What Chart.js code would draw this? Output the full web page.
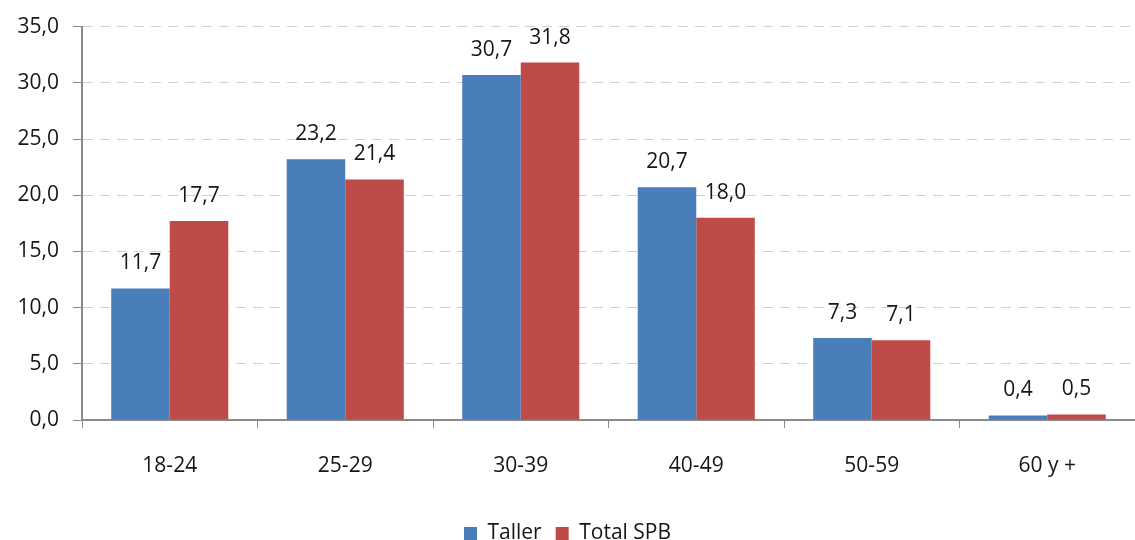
<!DOCTYPE html>
<html lang="es">
<head>
    <meta charset="UTF-8">
    <title>Edades</title>
    <style>
        html, body { margin: 0; padding: 0; background: #fff; }
        #grafica { display: block; }
    </style>
    <script src="https://cdn.jsdelivr.net/npm/chart.js@4/dist/chart.umd.min.js"></script>
</head>
<body>
    <canvas id="grafica" width="1135" height="540"></canvas>
    <script>
        const categorias = ['18-24', '25-29', '30-39', '40-49', '50-59', '60 y +'];
        const taller = [11.7, 23.2, 30.7, 20.7, 7.3, 0.4];
        const totalSPB = [17.7, 21.4, 31.8, 18.0, 7.1, 0.5];
        const ticksY = [0, 5, 10, 15, 20, 25, 30, 35];

        const fmt = v => v.toFixed(1).replace('.', ',');
        const fuente = "'Open Sans', 'DejaVu Sans', sans-serif";

        // etiquetas encima de cada barra
        const etiquetas = {
            id: 'etiquetas',
            afterDatasetsDraw(chart) {
                const ctx = chart.ctx;
                ctx.save();
                ctx.font = '21px ' + fuente;
                ctx.fillStyle = '#161616';
                ctx.textAlign = 'center';
                ctx.textBaseline = 'middle';
                chart.data.datasets.forEach((ds, i) => {
                    chart.getDatasetMeta(i).data.forEach((bar, j) => {
                        ctx.fillText(fmt(ds.data[j]), bar.x, bar.y - 25);
                    });
                });
                ctx.restore();
            }
        };

        new Chart(document.getElementById('grafica'), {
            type: 'bar',
            data: {
                labels: categorias,
                datasets: [
                    { label: 'Taller', data: taller, backgroundColor: '#4a7ebb' },
                    { label: 'Total SPB', data: totalSPB, backgroundColor: '#be4b48' }
                ]
            },
            options: {
                responsive: false,
                animation: false,
                layout: { padding: { top: 20, right: 0, left: 0, bottom: -14 } },
                datasets: { bar: { categoryPercentage: 0.667, barPercentage: 1 } },
                scales: {
                    x: {
                        afterFit: axis => { axis.height = 89; },
                        grid: { drawOnChartArea: false, tickLength: 8, tickColor: '#8a8a8a', offset: true },
                        border: { color: '#8a8a8a', width: 2 },
                        ticks: { color: '#161616', font: { family: fuente, size: 21 }, padding: 25 }
                    },
                    y: {
                        min: 0,
                        max: 35,
                        afterBuildTicks: axis => { axis.ticks = ticksY.map(v => ({ value: v })); },
                        afterFit: axis => { axis.width = 82; },
                        grid: { color: '#d0d0d0', tickLength: 9, tickColor: '#8a8a8a', tickBorderDash: [] },
                        border: { color: '#8a8a8a', width: 2, dash: [10, 7] },
                        ticks: {
                            color: '#161616',
                            font: { family: fuente, size: 21 },
                            padding: 14,
                            callback: v => fmt(v)
                        }
                    }
                },
                plugins: {
                    legend: {
                        position: 'bottom',
                        labels: {
                            color: '#161616',
                            font: { family: fuente, size: 21 },
                            boxWidth: 13,
                            boxHeight: 13,
                            padding: 14
                        }
                    },
                    tooltip: { enabled: false }
                }
            },
            plugins: [etiquetas]
        });
    </script>
</body>
</html>
